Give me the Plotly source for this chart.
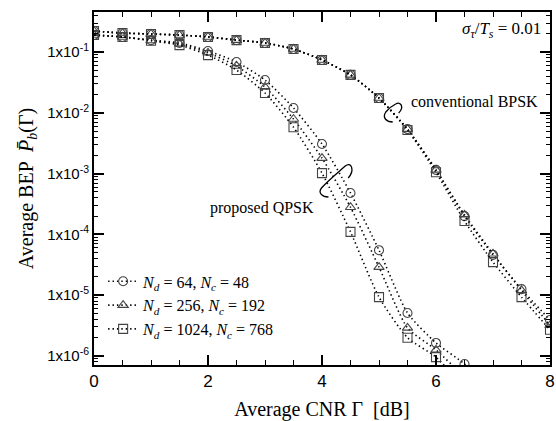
import plotly.graph_objects as go

# ---------------- data ----------------
cnr_db = [0, 0.5, 1, 1.5, 2, 2.5, 3, 3.5, 4, 4.5, 5, 5.5, 6, 6.5, 7, 7.5, 8]

# conventional BPSK
bpsk_64 = [0.221, 0.205, 0.198, 0.19, 0.177, 0.157, 0.141, 0.112, 0.074, 0.042, 0.0175,
           0.0054, 0.00115, 2.0e-4, 4.6e-5, 1.26e-5, 3.9e-6]
bpsk_256 = [0.221, 0.205, 0.198, 0.19, 0.177, 0.157, 0.141, 0.112, 0.074, 0.042, 0.0175,
            0.0054, 0.00115, 2.1e-4, 4.8e-5, 1.2e-5, 3.2e-6]
bpsk_1024 = [0.221, 0.205, 0.198, 0.19, 0.177, 0.157, 0.141, 0.112, 0.074, 0.042, 0.0175,
             0.0052, 0.00105, 1.66e-4, 3.5e-5, 9.3e-6, 2.7e-6]

# proposed QPSK
cnr_q = [0, 0.5, 1, 1.5, 2, 2.5, 3, 3.5, 4, 4.5, 5, 5.5, 6, 6.5, 7]
qpsk_64 = [0.19, 0.177, 0.157, 0.141, 0.104, 0.0686, 0.0347, 0.012, 0.00307, 4.8e-4,
           5.5e-5, 5.1e-6, 1.64e-6, 7.4e-7, 2.5e-7]
qpsk_256 = [0.19, 0.177, 0.155, 0.136, 0.097, 0.059, 0.0266, 0.0079, 0.0018, 2.8e-4,
            2.9e-5, 2.9e-6, 1.26e-6, 4.5e-7, 1.5e-7]
qpsk_1024 = [0.19, 0.177, 0.153, 0.130, 0.089, 0.0506, 0.0212, 0.0058, 0.00102, 1.1e-4,
             9.3e-6, 2.0e-6, 9.6e-7, 3.0e-7, 1.0e-7]

labels = ["<i>N</i><sub><i>d</i></sub> = 64, <i>N</i><sub><i>c</i></sub> = 48",
          "<i>N</i><sub><i>d</i></sub> = 256, <i>N</i><sub><i>c</i></sub> = 192",
          "<i>N</i><sub><i>d</i></sub> = 1024, <i>N</i><sub><i>c</i></sub> = 768"]
symbols = ["circle-open", "triangle-up-open", "square-open"]

y_tickvals = [1e-1, 1e-2, 1e-3, 1e-4, 1e-5, 1e-6]
y_ticktext = ["1x10<sup>-1</sup>", "1x10<sup>-2</sup>", "1x10<sup>-3</sup>",
              "1x10<sup>-4</sup>", "1x10<sup>-5</sup>", "1x10<sup>-6</sup>"]
x_tickvals = [0, 2, 4, 6, 8]

# ---------------- figure ----------------
fig = go.Figure()
line_style = dict(color="black", width=1.6, dash="1.4px,3px", shape="spline", smoothing=0.6)

for i, ys in enumerate([bpsk_64, bpsk_256, bpsk_1024]):
    fig.add_trace(go.Scatter(
        x=cnr_db, y=ys, mode="lines+markers", line=line_style,
        marker=dict(symbol=symbols[i], size=9, color="#444", line=dict(width=1.1, color="#444")),
        legendgroup=str(i), showlegend=False))

for i, ys in enumerate([qpsk_64, qpsk_256, qpsk_1024]):
    fig.add_trace(go.Scatter(
        x=cnr_q, y=ys, mode="lines+markers", line=line_style, name=labels[i],
        marker=dict(symbol=symbols[i], size=9, color="#444", line=dict(width=1.1, color="#444")),
        legendgroup=str(i), showlegend=True))

L, R, T, B = 94, 1, 12, 56
W, H = 556, 421
pw, ph = W - L - R, H - T - B

def px(xp):
    return (xp - L) / pw

def py(yp):
    return (H - B - yp) / ph

def bracket(points):
    (x0, y0), rest = points[0], points[1:]
    d = "M %f,%f " % (px(x0), py(y0))
    for (a, b, c, e, f, g) in rest:
        d += "C %f,%f %f,%f %f,%f " % (px(a), py(b), px(c), py(e), px(f), py(g))
    return d

# grouping brackets (decorations)
qpsk_br = bracket([(331, 197), (325, 197, 320, 193, 324, 188),
                   (330, 181, 340, 173, 348, 166),
                   (354, 161, 358, 170, 351, 178)])
bpsk_br = bracket([(396, 122), (390, 122, 385, 118, 389, 112),
                   (392, 108, 395, 106, 399, 104),
                   (404, 101, 408, 107, 402, 113)])

shapes = []
for d in (qpsk_br, bpsk_br):
    shapes.append(dict(type="path", path=d, xref="paper", yref="paper",
                       line=dict(color="black", width=1.3)))

serif = "Liberation Serif"
fig.update_layout(
    width=W, height=H,
    margin=dict(l=L, r=R, t=T, b=B),
    plot_bgcolor="white", paper_bgcolor="white",
    shapes=shapes,
    xaxis=dict(range=[0, 8], tickvals=x_tickvals, ticks="inside", ticklen=10, tickwidth=1.5,
               tickcolor="black", showline=True, linecolor="black", linewidth=2, mirror="allticks",
               showgrid=False, zeroline=False, ticklabeloverflow="allow",
               tickfont=dict(family="Liberation Sans", size=17, color="black"),
               minor=dict(dtick=0.5, ticks="inside", ticklen=5, tickcolor="black", tickwidth=1, showgrid=False),
               title=dict(text="Average CNR Γ  [dB]", font=dict(family=serif, size=20, color="black"),
                          standoff=14)),
    yaxis=dict(type="log", range=[-6.148, -0.342], tickvals=y_tickvals, ticktext=y_ticktext,
               ticks="inside", ticklen=10, tickwidth=1.5, tickcolor="black",
               showline=True, linecolor="black", linewidth=2, mirror="allticks",
               showgrid=False, zeroline=False,
               tickfont=dict(family="Liberation Sans", size=15, color="black"),
               minor=dict(dtick="D1", ticks="inside", ticklen=4, tickcolor="black", tickwidth=1, showgrid=False),
               title=dict(text="Average BEP  <i>P̄</i><sub><i>b</i></sub>(Γ)",
                          font=dict(family=serif, size=20, color="black"), standoff=8)),
    legend=dict(x=0.02, y=0.285, xanchor="left", yanchor="top", bgcolor="rgba(0,0,0,0)",
                font=dict(family=serif, size=16, color="black"), tracegroupgap=0,
                itemwidth=30),
    showlegend=True,
    annotations=[
        dict(text="<i>σ</i><sub><i>τ</i></sub>/<i>T</i><sub><i>s</i></sub> = 0.01",
             x=px(548), y=py(30), xref="paper", yref="paper", xanchor="right", yanchor="middle",
             showarrow=False, font=dict(family=serif, size=17, color="black")),
        dict(text="conventional BPSK", x=px(412), y=py(101), xref="paper", yref="paper",
             xanchor="left", yanchor="middle", showarrow=False,
             font=dict(family=serif, size=16, color="black")),
        dict(text="proposed QPSK", x=px(318), y=py(208), xref="paper", yref="paper",
             xanchor="right", yanchor="middle", showarrow=False,
             font=dict(family=serif, size=16, color="black")),
    ],
)

fig.write_html("out.html")
